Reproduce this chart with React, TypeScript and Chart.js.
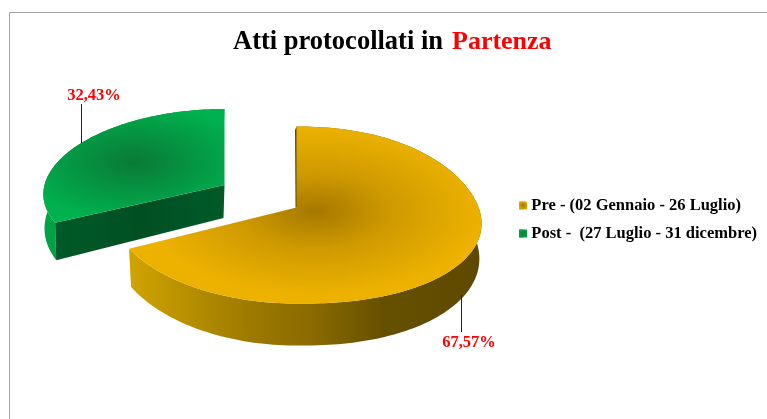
import React, { useEffect, useRef } from "react";
import { Chart, registerables } from "chart.js";

Chart.register(...registerables);

const categories = ["Pre - (02 Gennaio - 26 Luglio)", "Post -  (27 Luglio - 31 dicembre)"];
const values = [67.57, 32.43];
const valueLabels = ["67,57%", "32,43%"];
const titleBlack = "Atti protocollati in ";
const titleRed = "Partenza";
const swatchColors = ["#ebb000", "#00a84c"];
const swatchCenters = ["#a67800", "#0a7a34"];

const SERIF = '"Liberation Serif", "Times New Roman", serif';

// Per-slice projection of the flat pie into the tilted 3D view.
const views = [
  { cx: 296.5, cy: 207.5, R: 185, k: 87.9, p: -0.0847, q: -0.03, warp: 13.5, d0: 35, d1: 7, shift: 0,
    gc: [315, 211], gr: 170, gs: [[0, "#a67800"], [0.45, "#cf9a00"], [1, "#edb200"]] },
  { cx: 224.5, cy: 185, R: 180, k: 81.1, p: -0.0676, q: -0.113, warp: 0, d0: 33, d1: 10, shift: -1,
    gc: [134, 162], gr: 120, gs: [[0, "#0a7a34"], [0.4, "#069040"], [1, "#00b24f"]] },
];

function project(v: any, theta: number) {
  const u = Math.sin(theta);
  const t = -Math.cos(theta);
  const au = Math.abs(u);
  const bend = u > 0 ? v.warp * Math.pow(au, t < 0 ? 3 : 1.5) : 0;
  return {
    x: v.cx + (v.R * u) / (1 + v.q * t),
    y: v.cy + (v.k * t) / (1 + v.p * t) + bend,
    t,
  };
}
function lower(v: any, pt: any) {
  return {
    x: pt.x - (pt.x - v.cx) * 0.012 + v.shift,
    y: pt.y + v.d0 + v.d1 * pt.t,
  };
}
function sampleRim(v: any, a0: number, a1: number) {
  const pts = [];
  const n = 160;
  for (let i = 0; i <= n; i++) pts.push(project(v, a0 + ((a1 - a0) * i) / n));
  return pts;
}

const pie3d = {
  id: "pie3d",
  beforeDraw(chart: any) {
    const c = chart.ctx;
    c.save();
    c.fillStyle = "#ffffff";
    c.fillRect(0, 0, chart.width, chart.height);
    c.strokeStyle = "#a3a3a3";
    c.lineWidth = 1;
    c.beginPath();
    c.moveTo(9.5, chart.height);
    c.lineTo(9.5, 12.5);
    c.lineTo(chart.width, 12.5);
    c.stroke();
    c.restore();
  },
  beforeDatasetsDraw(chart: any) {
    const c = chart.ctx;
    const arcs = chart.getDatasetMeta(0).data;
    arcs.forEach((arc: any, i: number) => {
      const v = views[i];
      const a0 = arc.startAngle + Math.PI / 2;
      const a1 = arc.endAngle + Math.PI / 2;
      const rim = sampleRim(v, a0, a1);
      const apex = { x: v.cx, y: v.cy, t: 0 };
      c.save();
      // outer wall
      const wall = c.createLinearGradient(i === 0 ? 130 : 44, 0, i === 0 ? 481 : 225, 0);
      if (i === 0) {
        wall.addColorStop(0, "#cfa400");
        wall.addColorStop(0.32, "#a07c00");
        wall.addColorStop(0.52, "#8a6a00");
        wall.addColorStop(0.72, "#665000");
        wall.addColorStop(1, "#5e4900");
      } else {
        wall.addColorStop(0, "#00a347");
        wall.addColorStop(1, "#00893c");
      }
      c.fillStyle = wall;
      c.beginPath();
      rim.forEach((p: any, j: number) => (j ? c.lineTo(p.x, p.y) : c.moveTo(p.x, p.y)));
      [...rim].reverse().forEach((p: any) => {
        const b = lower(v, p);
        c.lineTo(b.x, b.y);
      });
      c.closePath();
      c.fill();
      if (i === 0) {
        // sliver of the cut face beside the vertical edge
        const top = rim[0];
        c.fillStyle = "#5e4900";
        c.beginPath();
        c.moveTo(top.x + 0.5, top.y);
        c.lineTo(apex.x + 0.5, apex.y);
        c.lineTo(apex.x - 1, apex.y);
        c.lineTo(top.x - 1.5, top.y + 3);
        c.closePath();
        c.fill();
      } else {
        // cut face toward the viewer
        const corner = rim[0];
        const a = lower(v, apex);
        const b = lower(v, corner);
        const g = c.createLinearGradient(corner.x, 0, apex.x, 0);
        g.addColorStop(0, "#005a28");
        g.addColorStop(0.5, "#004f23");
        g.addColorStop(1, "#005a28");
        c.fillStyle = g;
        c.beginPath();
        c.moveTo(apex.x, apex.y);
        c.lineTo(corner.x, corner.y);
        c.lineTo(b.x, b.y);
        c.lineTo(a.x, a.y);
        c.closePath();
        c.fill();
      }
      // top face
      c.beginPath();
      c.moveTo(apex.x, apex.y);
      rim.forEach((p: any) => c.lineTo(p.x, p.y));
      c.closePath();
      c.translate(v.gc[0], v.gc[1]);
      c.scale(1, 0.5);
      const g = c.createRadialGradient(0, 0, 0, 0, 0, v.gr);
      v.gs.forEach((s: any) => g.addColorStop(s[0], s[1]));
      c.fillStyle = g;
      c.fill();
      c.restore();
    });
    return false;
  },
  afterDraw(chart: any) {
    const c = chart.ctx;
    c.save();
    // title
    c.textBaseline = "alphabetic";
    c.textAlign = "left";
    c.font = `bold 26.5px ${SERIF}`;
    c.fillStyle = "#000000";
    c.fillText(titleBlack, 233, 49);
    c.font = `bold 26px ${SERIF}`;
    c.fillStyle = "#ff0000";
    c.fillText(titleRed, 452, 49);
    // leader lines
    c.strokeStyle = "#222222";
    c.lineWidth = 1;
    c.beginPath();
    c.moveTo(81.5, 104);
    c.lineTo(81.5, 143);
    c.moveTo(461.5, 295);
    c.lineTo(461.5, 332);
    c.stroke();
    // value labels
    c.font = `bold 16.5px ${SERIF}`;
    c.textAlign = "center";
    c.fillStyle = "#ff0000";
    c.fillText(valueLabels[0], 469, 347);
    c.fillText(valueLabels[1], 94, 100);
    // legend swatches with their shaded centres, on the legend's own boxes
    (chart.legend?.legendHitBoxes || []).forEach((h: any, i: number) => {
      const y = h.top + h.height / 2 - 4;
      const g = c.createRadialGradient(h.left + 4, y + 4, 0, h.left + 4, y + 4, 5);
      g.addColorStop(0, swatchCenters[i]);
      g.addColorStop(1, swatchColors[i]);
      c.fillStyle = g;
      c.fillRect(h.left, y, 8, 8);
    });
    c.restore();
  },
};

export default function App() {
  const ref = useRef<HTMLCanvasElement>(null);
  useEffect(() => {
    const chart = new Chart(ref.current!, {
      type: "pie",
      data: {
        labels: categories,
        datasets: [{ data: values, backgroundColor: swatchColors, borderWidth: 0 }],
      },
      options: {
        responsive: false,
        animation: false,
        layout: { padding: { top: 20, right: 0 } },
        plugins: {
          title: { display: false },
          tooltip: { enabled: false },
          legend: {
            position: "right",
            labels: {
              boxWidth: 4,
              boxHeight: 8,
              padding: 11.5,
              color: "#000000",
              font: { family: SERIF, size: 16.5, weight: "bold" },
            },
          },
        },
      },
      plugins: [pie3d],
    } as any);
    return () => chart.destroy();
  }, []);
  return (
    <div style={{ position: "fixed", left: 0, top: 0, width: 767, height: 419, background: "#fff" }}>
      <canvas ref={ref} width={767} height={419} style={{ display: "block" }} />
    </div>
  );
}
